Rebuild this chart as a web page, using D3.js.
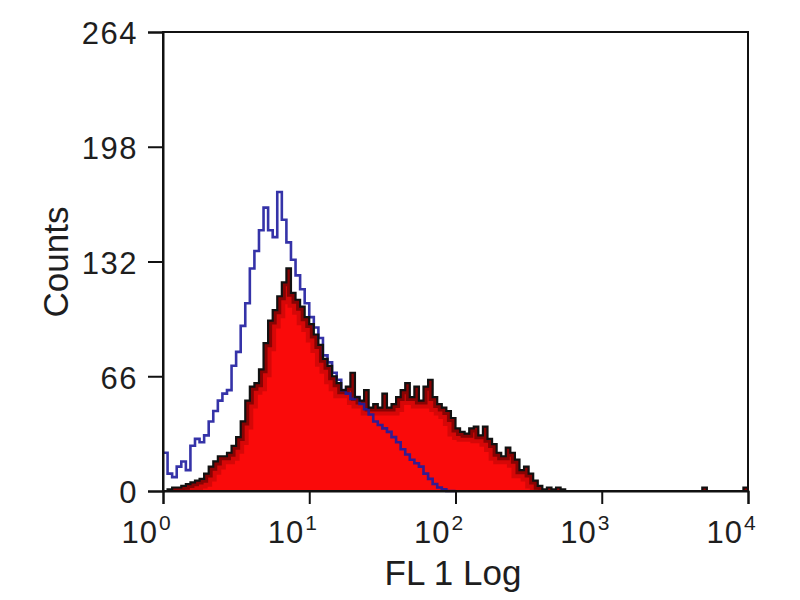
<!DOCTYPE html>
<html>
<head>
<meta charset="utf-8">
<script src="https://cdn.jsdelivr.net/npm/d3@7"></script>
<style>
  body { margin: 0; background: #fff; }
  text { font-family: "Liberation Sans", Arial, sans-serif; fill: #1e1e1e; }
</style>
</head>
<body>
<svg id="canvas" width="800" height="600"></svg>
<script>
// FL1 histogram, 128 channels over 4 log decades (32 per decade)
const decades = [1, 10, 100, 1000, 10000]
const exponents = ['0', '1', '2', '3', '4']
const countTicks = [0, 66, 132, 198, 264]
const channelsPerDecade = 32

// isotype control (blue outline)
const controlCounts = [
    22, 10, 8, 14, 17, 12, 26, 30, 28, 32,
    40, 46, 52, 56, 58, 72, 80, 95, 108, 128,
    138, 150, 163, 150, 146, 172, 156, 143, 133, 124,
    116, 108, 100, 94, 88, 78, 74, 68, 64, 58,
    56, 53, 54, 50, 47, 44, 40, 38, 36, 34,
    31, 28, 24, 21, 18, 16, 14, 10, 7, 4,
    2, 1, 0, 0
]

// stained sample (red fill, black outline)
const sampleCounts = [
    0, 1, 2, 2, 3, 4, 5, 6, 7, 10,
    14, 17, 20, 20, 22, 26, 31, 40, 52, 60,
    62, 70, 85, 98, 104, 112, 120, 128, 114, 110,
    106, 100, 96, 90, 84, 76, 72, 66, 62, 58,
    60, 68, 54, 52, 58, 48, 50, 48, 56, 48,
    50, 54, 58, 62, 54, 60, 52, 60, 64, 54,
    50, 48, 46, 42, 36, 34, 33, 36, 37, 32,
    37, 30, 27, 22, 20, 25, 22, 18, 12, 14,
    10, 6, 3, 1, 2, 1, 2, 1, 0, 0,
    0, 0, 0, 0, 0, 0, 0, 0, 0, 0,
    0, 0, 0, 0, 0, 0, 0, 0, 0, 0,
    0, 0, 0, 0, 0, 0, 0, 0, 2, 0,
    0, 0, 0, 0, 0, 0, 0, 2
]

let canvas = d3.select('#canvas')

let plotLeft = 163, plotRight = 748, plotTop = 32, plotBottom = 491

let xScale = d3.scaleLog().domain([1, 10000]).range([plotLeft, plotRight])
let yScale = d3.scaleLinear().domain([0, 264]).range([plotBottom, plotTop])

// channel i starts at 10^(i/32)
function toSteps (counts) {
    let pts = counts.map((c, i) => [Math.pow(10, i / channelsPerDecade), c])
    pts.push([Math.pow(10, counts.length / channelsPerDecade), counts[counts.length - 1]])
    return pts
}

let samplePts = toSteps(sampleCounts)
let controlPts = toSteps(controlCounts)

let area = d3.area()
    .x(d => xScale(d[0]))
    .y0(yScale(0))
    .y1(d => yScale(d[1]))
    .curve(d3.curveStepAfter)

let line = d3.line()
    .x(d => xScale(d[0]))
    .y(d => yScale(d[1]))
    .curve(d3.curveStepAfter)

canvas.append('clipPath')
    .attr('id', 'sampleClip')
    .append('path')
    .attr('d', area(samplePts))

// red fill
canvas.append('path')
    .attr('d', area(samplePts))
    .attr('fill', '#fa0a0a')

// darker band just under the outline
canvas.append('path')
    .attr('d', line(samplePts))
    .attr('clip-path', 'url(#sampleClip)')
    .attr('fill', 'none')
    .attr('stroke', '#6a0000')
    .attr('stroke-opacity', 0.25)
    .attr('stroke-width', 16)
canvas.append('path')
    .attr('d', line(samplePts))
    .attr('clip-path', 'url(#sampleClip)')
    .attr('fill', 'none')
    .attr('stroke', '#3a0000')
    .attr('stroke-opacity', 0.5)
    .attr('stroke-width', 8)

// blue control outline
canvas.append('path')
    .attr('d', line(controlPts))
    .attr('fill', 'none')
    .attr('stroke', '#1f1d9e')
    .attr('stroke-opacity', 0.9)
    .attr('stroke-width', 2.6)

// black outline of the sample
canvas.append('path')
    .attr('d', line(samplePts))
    .attr('fill', 'none')
    .attr('stroke', '#111')
    .attr('stroke-width', 2.2)

// frame
canvas.append('rect')
    .attr('x', plotLeft)
    .attr('y', plotTop)
    .attr('width', plotRight - plotLeft)
    .attr('height', plotBottom - plotTop)
    .attr('fill', 'none')
    .attr('stroke', '#111')
    .attr('stroke-width', 2)

// y axis
let yAxis = canvas.append('g')
    .attr('transform', 'translate(' + plotLeft + ',0)')
    .call(d3.axisLeft(yScale).tickValues(countTicks).tickSize(15).tickPadding(10))
yAxis.select('.domain').attr('stroke', '#111').attr('stroke-width', 2)
yAxis.selectAll('line').attr('stroke', '#111').attr('stroke-width', 2)
yAxis.selectAll('text')
    .attr('font-size', 31)
    .attr('dy', '0.38em')
    .attr('letter-spacing', 1.5)
    .style('font-family', '"Liberation Sans", Arial, sans-serif')
    .attr('fill', '#1e1e1e')

// x axis (ticks only, labels drawn as 10 + superscript)
let xAxis = canvas.append('g')
    .attr('transform', 'translate(0,' + plotBottom + ')')
    .call(d3.axisBottom(xScale).tickValues(decades).tickSize(13).tickFormat(''))
xAxis.select('.domain').attr('stroke', '#111').attr('stroke-width', 2)
xAxis.selectAll('line').attr('stroke', '#111').attr('stroke-width', 2)

let xLabels = canvas.append('g')
xLabels.selectAll('text.base')
    .data(decades)
    .enter()
    .append('text')
    .attr('class', 'base')
    .attr('x', d => xScale(d) - 5)
    .attr('y', 543)
    .attr('text-anchor', 'end')
    .attr('font-size', 31)
    .attr('letter-spacing', 1)
    .text('10')
xLabels.selectAll('text.sup')
    .data(decades)
    .enter()
    .append('text')
    .attr('class', 'sup')
    .attr('x', d => xScale(d) - 4)
    .attr('y', 530)
    .attr('text-anchor', 'start')
    .attr('font-size', 21)
    .text((d, i) => exponents[i])

// axis titles
canvas.append('text')
    .attr('x', 453)
    .attr('y', 585)
    .attr('text-anchor', 'middle')
    .attr('font-size', 35)
    .text('FL 1 Log')

canvas.append('text')
    .attr('transform', 'translate(68,262) rotate(-90)')
    .attr('text-anchor', 'middle')
    .attr('font-size', 35)
    .text('Counts')
</script>
</body>
</html>
